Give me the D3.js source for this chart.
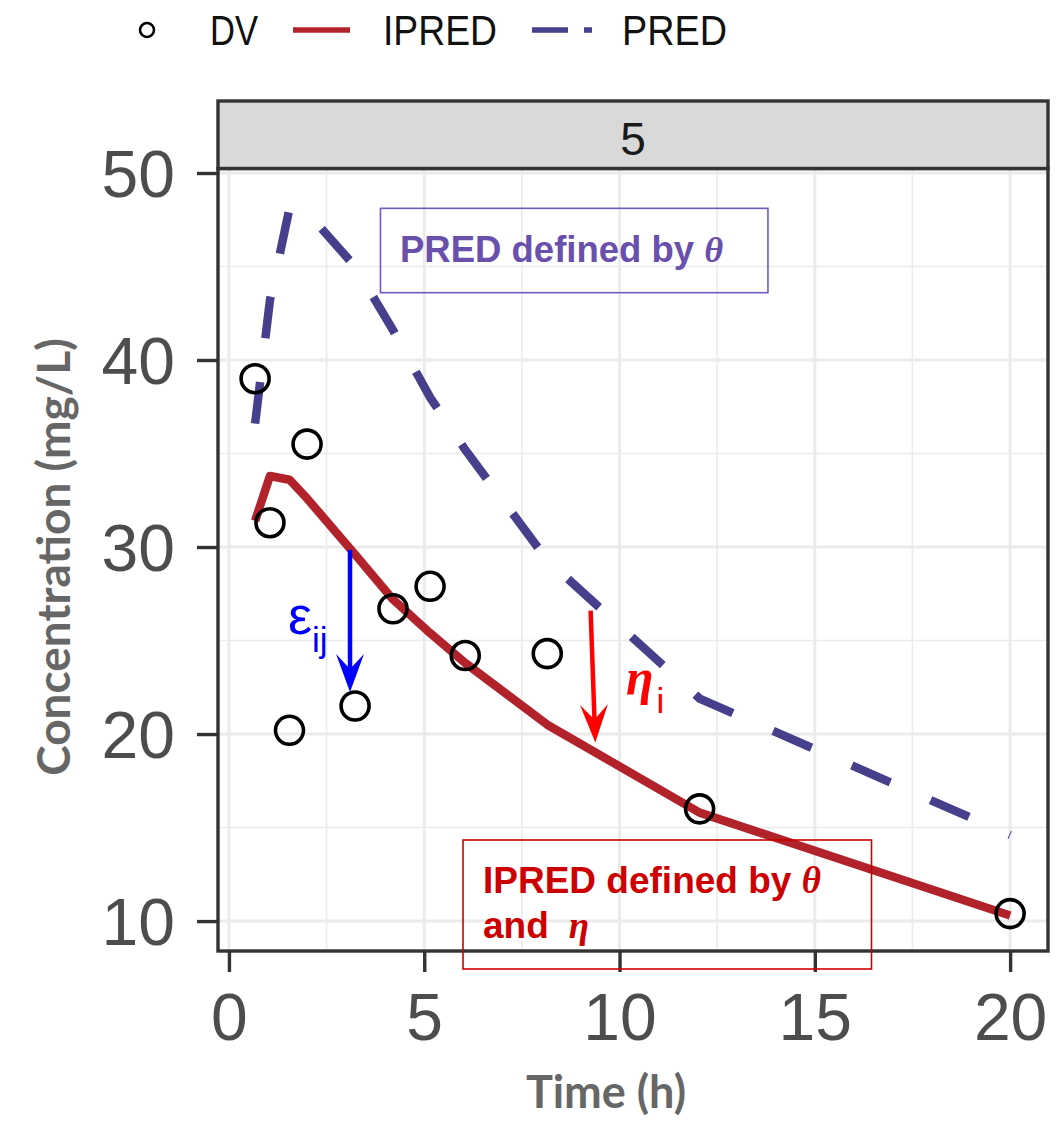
<!DOCTYPE html>
<html>
<head>
<meta charset="utf-8">
<script src="https://cdn.jsdelivr.net/npm/d3@7"></script>
<style>
  html, body { margin: 0; padding: 0; background: #fff; }
  svg { display: block; }
</style>
</head>
<body>
<div id="chart"></div>
<script>
// values
var obsTime   = [0.67, 1.05, 1.55, 2.0, 3.23, 4.2, 5.15, 6.05, 8.15, 12.05, 20]
var dvConc    = [39.0, 31.3, 20.2, 35.5, 21.5, 26.7, 27.9, 24.2, 24.3, 16.0, 10.4]
var ipredConc = [31.4, 33.8, 33.6, 32.6, 29.6, 27.2, 25.4, 23.8, 20.5, 15.8, 10.3]
var predConc  = [36.6, 43.2, 48.1, 47.9, 45.0, 41.6, 38.0, 35.2, 29.3, 21.9, 14.6]

var xTickVals = [0, 5, 10, 15, 20]
var yTickVals = [10, 20, 30, 40, 50]
var xMinor = [2.5, 7.5, 12.5, 17.5]
var yMinor = [15, 25, 35, 45]
var panelLabel = "5"
var legendLabels = ["DV", "IPRED", "PRED"]

// annotations, in data units: [time, from conc, to conc]
var epsArrow = [3.1, 29.85, 22.25]
var etaArrow = [9.26, 26.6, 19.55]

var W = 1063, H = 1121
var panel = {left: 218, right: 1048, top: 168.5, bottom: 951}
var stripTop = 101

var IPRED_COL = "#b2222b"
var PRED_COL = "#463f8c"
var BORDER = "#333333"

var svg = d3.select("#chart").append("svg")
    .attr("width", W).attr("height", H)

var x = d3.scaleLinear().domain([-0.28, 20.97]).range([panel.left, panel.right])
var y = d3.scaleLinear().domain([8.4, 50.24]).range([panel.bottom, panel.top])

// grid
var grid = svg.append("g")
grid.selectAll(".vmin").data(xMinor).enter().append("line")
    .attr("x1", d => x(d)).attr("x2", d => x(d))
    .attr("y1", panel.top).attr("y2", panel.bottom)
    .attr("stroke", "#ebebeb").attr("stroke-width", 1.6)
grid.selectAll(".hmin").data(yMinor).enter().append("line")
    .attr("x1", panel.left).attr("x2", panel.right)
    .attr("y1", d => y(d)).attr("y2", d => y(d))
    .attr("stroke", "#ebebeb").attr("stroke-width", 1.6)
grid.selectAll(".vmaj").data(xTickVals).enter().append("line")
    .attr("x1", d => x(d)).attr("x2", d => x(d))
    .attr("y1", panel.top).attr("y2", panel.bottom)
    .attr("stroke", "#ebebeb").attr("stroke-width", 3)
grid.selectAll(".hmaj").data(yTickVals).enter().append("line")
    .attr("x1", panel.left).attr("x2", panel.right)
    .attr("y1", d => y(d)).attr("y2", d => y(d))
    .attr("stroke", "#ebebeb").attr("stroke-width", 3)

var rows = obsTime.map((t, i) => ({t: t, dv: dvConc[i], ipred: ipredConc[i], pred: predConc[i]}))

// PRED dashed
svg.append("path")
    .datum(rows)
    .attr("d", d3.line().x(d => x(d.t)).y(d => y(d.pred)))
    .attr("fill", "none")
    .attr("stroke", PRED_COL)
    .attr("stroke-width", 8.5)
    .attr("stroke-dasharray", "42,44")

// IPRED solid
svg.append("path")
    .datum(rows)
    .attr("d", d3.line().x(d => x(d.t)).y(d => y(d.ipred)))
    .attr("fill", "none")
    .attr("stroke", IPRED_COL)
    .attr("stroke-width", 8.5)
    .attr("stroke-linejoin", "round")

// DV points
svg.selectAll(".dv").data(rows).enter().append("circle")
    .attr("cx", d => x(d.t)).attr("cy", d => y(d.dv))
    .attr("r", 14)
    .attr("fill", "none").attr("stroke", "#000").attr("stroke-width", 3.6)

// arrows
function drawArrow(t1, c1, t2, c2, color) {
    var x1 = x(t1), y1 = y(c1), x2 = x(t2), y2 = y(c2)
    var a = Math.atan2(y2 - y1, x2 - x1)
    var hl = 38, hw = 14, notch = 15
    var bx = x2 - (hl - notch) * Math.cos(a), by = y2 - (hl - notch) * Math.sin(a)
    svg.append("line")
        .attr("x1", x1).attr("y1", y1).attr("x2", bx).attr("y2", by)
        .attr("stroke", color).attr("stroke-width", 4.5)
    function pt(u, v) {
        return [x2 + u * Math.cos(a) - v * Math.sin(a), y2 + u * Math.sin(a) + v * Math.cos(a)]
    }
    var p = [pt(0, 0), pt(-hl, -hw), pt(-hl + notch, 0), pt(-hl, hw)]
    svg.append("path")
        .attr("d", "M" + p.map(q => q.join(",")).join("L") + "Z")
        .attr("fill", color)
}
drawArrow(epsArrow[0], epsArrow[1], epsArrow[0], epsArrow[2], "#0000ff")
drawArrow(etaArrow[0], etaArrow[1], etaArrow[0] + 0.12, etaArrow[2], "#ff0000")

// epsilon / eta labels
var eps = svg.append("text").attr("x", 288).attr("y", 634)
    .attr("fill", "#0000ff").style("font-family", "'Liberation Sans', Arial, sans-serif")
eps.append("tspan").style("font-size", "54px").text("ε")
eps.append("tspan").attr("dy", 18).style("font-size", "35px").text("ij")

var eta = svg.append("text").attr("x", 626).attr("y", 694).attr("fill", "#ff0000")
eta.append("tspan").style("font-family", "'Liberation Serif', 'Times New Roman', serif")
    .style("font-size", "50px").style("font-weight", "bold").style("font-style", "italic").text("η")
eta.append("tspan").attr("dy", 19).attr("dx", 3)
    .style("font-family", "'Liberation Sans', Arial, sans-serif").style("font-size", "35px").text("i")

// panel border
svg.append("rect")
    .attr("x", panel.left).attr("y", panel.top)
    .attr("width", panel.right - panel.left).attr("height", panel.bottom - panel.top)
    .attr("fill", "none").attr("stroke", BORDER).attr("stroke-width", 3.4)

// strip
svg.append("rect")
    .attr("x", panel.left).attr("y", stripTop)
    .attr("width", panel.right - panel.left).attr("height", panel.top - stripTop)
    .attr("fill", "#d9d9d9").attr("stroke", BORDER).attr("stroke-width", 3.4)
svg.append("text")
    .attr("x", (panel.left + panel.right) / 2).attr("y", 155)
    .attr("text-anchor", "middle")
    .style("font-family", "'Liberation Sans', Arial, sans-serif")
    .style("font-size", "46px").attr("fill", "#1a1a1a")
    .text(panelLabel)

// axes
var xAxis = svg.append("g")
    .attr("transform", "translate(0," + panel.bottom + ")")
    .call(d3.axisBottom(x).tickValues(xTickVals).tickSize(21).tickPadding(21))
var yAxis = svg.append("g")
    .attr("transform", "translate(" + panel.left + ",0)")
    .call(d3.axisLeft(y).tickValues(yTickVals).tickSize(21).tickPadding(22))
;[xAxis, yAxis].forEach(function(g) {
    g.select(".domain").remove()
    g.selectAll(".tick line").attr("stroke", BORDER).attr("stroke-width", 3.4)
    g.selectAll(".tick text")
        .attr("fill", "#4d4d4d")
        .style("font-family", "'Liberation Sans', Arial, sans-serif")
        .style("font-size", "66px")
})
yAxis.selectAll(".tick text").attr("dy", "0.36em")

// axis titles
svg.append("text")
    .attr("x", 606).attr("y", 1108)
    .attr("text-anchor", "middle")
    .style("font-family", "Lato, sans-serif").style("font-weight", "bold")
    .style("font-size", "45px").attr("fill", "#666666")
    .text("Time (h)")
svg.append("text")
    .attr("transform", "translate(70,557) rotate(-90)")
    .attr("text-anchor", "middle")
    .style("font-family", "Lato, sans-serif").style("font-weight", "bold")
    .style("font-size", "46px").attr("fill", "#666666")
    .text("Concentration (mg/L)")

// annotation boxes
var bold = "'Liberation Sans', Arial, sans-serif"
var serif = "'Liberation Serif', 'Times New Roman', serif"

svg.append("rect")
    .attr("x", x(3.88)).attr("y", y(48.11))
    .attr("width", x(13.8) - x(3.88)).attr("height", y(43.6) - y(48.11))
    .attr("fill", "none").attr("stroke", "#7358c2").attr("stroke-width", 1.6)
var pt1 = svg.append("text").attr("x", 400).attr("y", 262)
    .attr("fill", "#6a50ad").style("font-size", "36.5px").style("font-weight", "bold")
pt1.append("tspan").style("font-family", bold).text("PRED defined by ")
pt1.append("tspan").style("font-family", serif).style("font-style", "italic").text("θ")

svg.append("rect")
    .attr("x", 463).attr("y", 840)
    .attr("width", 871.5 - 463).attr("height", 969 - 840)
    .attr("fill", "none").attr("stroke", "#cc0000").attr("stroke-width", 1.6)
var it1 = svg.append("text").attr("x", 483).attr("y", 893)
    .attr("fill", "#cc0000").style("font-size", "37px").style("font-weight", "bold")
it1.append("tspan").style("font-family", bold).text("IPRED defined by ")
it1.append("tspan").style("font-family", serif).style("font-style", "italic").text("θ")
var it2 = svg.append("text").attr("x", 483).attr("y", 938)
    .attr("fill", "#cc0000").style("font-size", "37px").style("font-weight", "bold")
it2.append("tspan").style("font-family", bold).text("and")
it2.append("tspan").attr("dx", 20).style("font-family", serif).style("font-style", "italic").text("η")

// legend
var lg = svg.append("g")
var legFont = "'Liberation Sans', Arial, sans-serif"
lg.append("circle").attr("cx", 147).attr("cy", 30).attr("r", 7)
    .attr("fill", "none").attr("stroke", "#000").attr("stroke-width", 2.6)
lg.append("line").attr("x1", 293).attr("x2", 350).attr("y1", 30).attr("y2", 30)
    .attr("stroke", IPRED_COL).attr("stroke-width", 5.5)
lg.append("line").attr("x1", 532).attr("x2", 592).attr("y1", 30).attr("y2", 30)
    .attr("stroke", PRED_COL).attr("stroke-width", 5.5).attr("stroke-dasharray", "36,16")
var legPos = [[210, 48], [383, 114], [622, 105]]
legendLabels.forEach(function(lab, i) {
    lg.append("text").attr("x", legPos[i][0]).attr("y", 45)
        .attr("textLength", legPos[i][1]).attr("lengthAdjust", "spacingAndGlyphs")
        .style("font-family", legFont).style("font-size", "42px").attr("fill", "#111")
        .text(lab)
})
</script>
</body>
</html>
